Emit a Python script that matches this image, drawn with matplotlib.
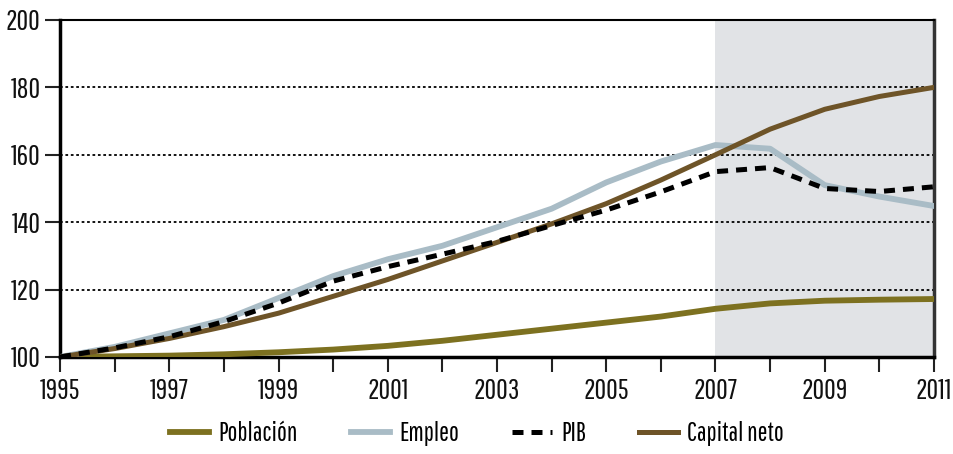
import matplotlib.pyplot as plt

# datos (índice 1995 = 100)
years = list(range(1995, 2012))
poblacion = [100, 100.2, 100.4, 100.8, 101.4, 102.2, 103.3, 104.8, 106.6, 108.4,
             110.2, 112.0, 114.3, 115.9, 116.7, 117.0, 117.2]
empleo = [100, 103.0, 107.0, 111.0, 117.5, 124.0, 129.0, 133.0, 138.5, 144.0,
          151.8, 158.0, 162.9, 161.8, 151.0, 147.6, 144.8]
pib = [100, 102.7, 106.0, 110.5, 116.0, 122.5, 126.8, 130.5, 134.3, 139.0,
       143.6, 149.0, 155.0, 156.2, 150.0, 149.1, 150.5]
capital = [100, 102.5, 105.5, 109.0, 113.0, 118.0, 123.0, 128.5, 134.0, 139.5,
           145.5, 152.5, 160.0, 167.6, 173.5, 177.3, 180.0]

plt.rcParams['font.family'] = ['Pathway Gothic One', 'Roboto Condensed', 'DejaVu Sans']

fig = plt.figure(figsize=(9.54, 4.54), dpi=100)
ax = fig.add_axes([0.063, 0.2137, 0.916, 0.7423])

ax.axvspan(2007, 2011, color='#e1e3e6', zorder=0, lw=0)
for v in [120, 140, 160, 180, 200]:
    ax.axhline(v, color='black', ls=(0, (1.5, 1.5)), lw=1.3, zorder=1)

ax.plot(years, poblacion, color='#7d7120', lw=4.2, label='Población', zorder=3)
ax.plot(years, empleo, color='#a9bcc6', lw=4.2, label='Empleo', zorder=3)
ax.plot(years, pib, color='black', lw=3.6, ls=(0, (2.2, 1.6)), label='PIB', zorder=4)
ax.plot(years, capital, color='#6e5428', lw=3.6, label='Capital neto', zorder=3)

ax.set_xlim(1995, 2011)
ax.set_ylim(100, 200)
ax.set_xticks(years)
ax.set_xticklabels([str(y) if (y - 1995) % 2 == 0 else '' for y in years])
ax.set_yticks(range(100, 201, 20))
ax.tick_params(axis='both', length=11, width=1.5, labelsize=20.5, color='#222222',
               labelcolor='#111111')
ax.tick_params(axis='x', pad=4)
ax.tick_params(axis='y', pad=3)
for s in ax.spines.values():
    s.set_linewidth(2.5)
    s.set_color('black')
ax.spines['top'].set_linewidth(1.5)
ax.spines['right'].set_color('#333333')

fig.legend(loc='center', bbox_to_anchor=(0.5, 0.045), ncol=4, frameon=False,
           fontsize=19, handlelength=1.5, columnspacing=2.0, handletextpad=0.35)

fig.savefig('out.png', dpi=100)
